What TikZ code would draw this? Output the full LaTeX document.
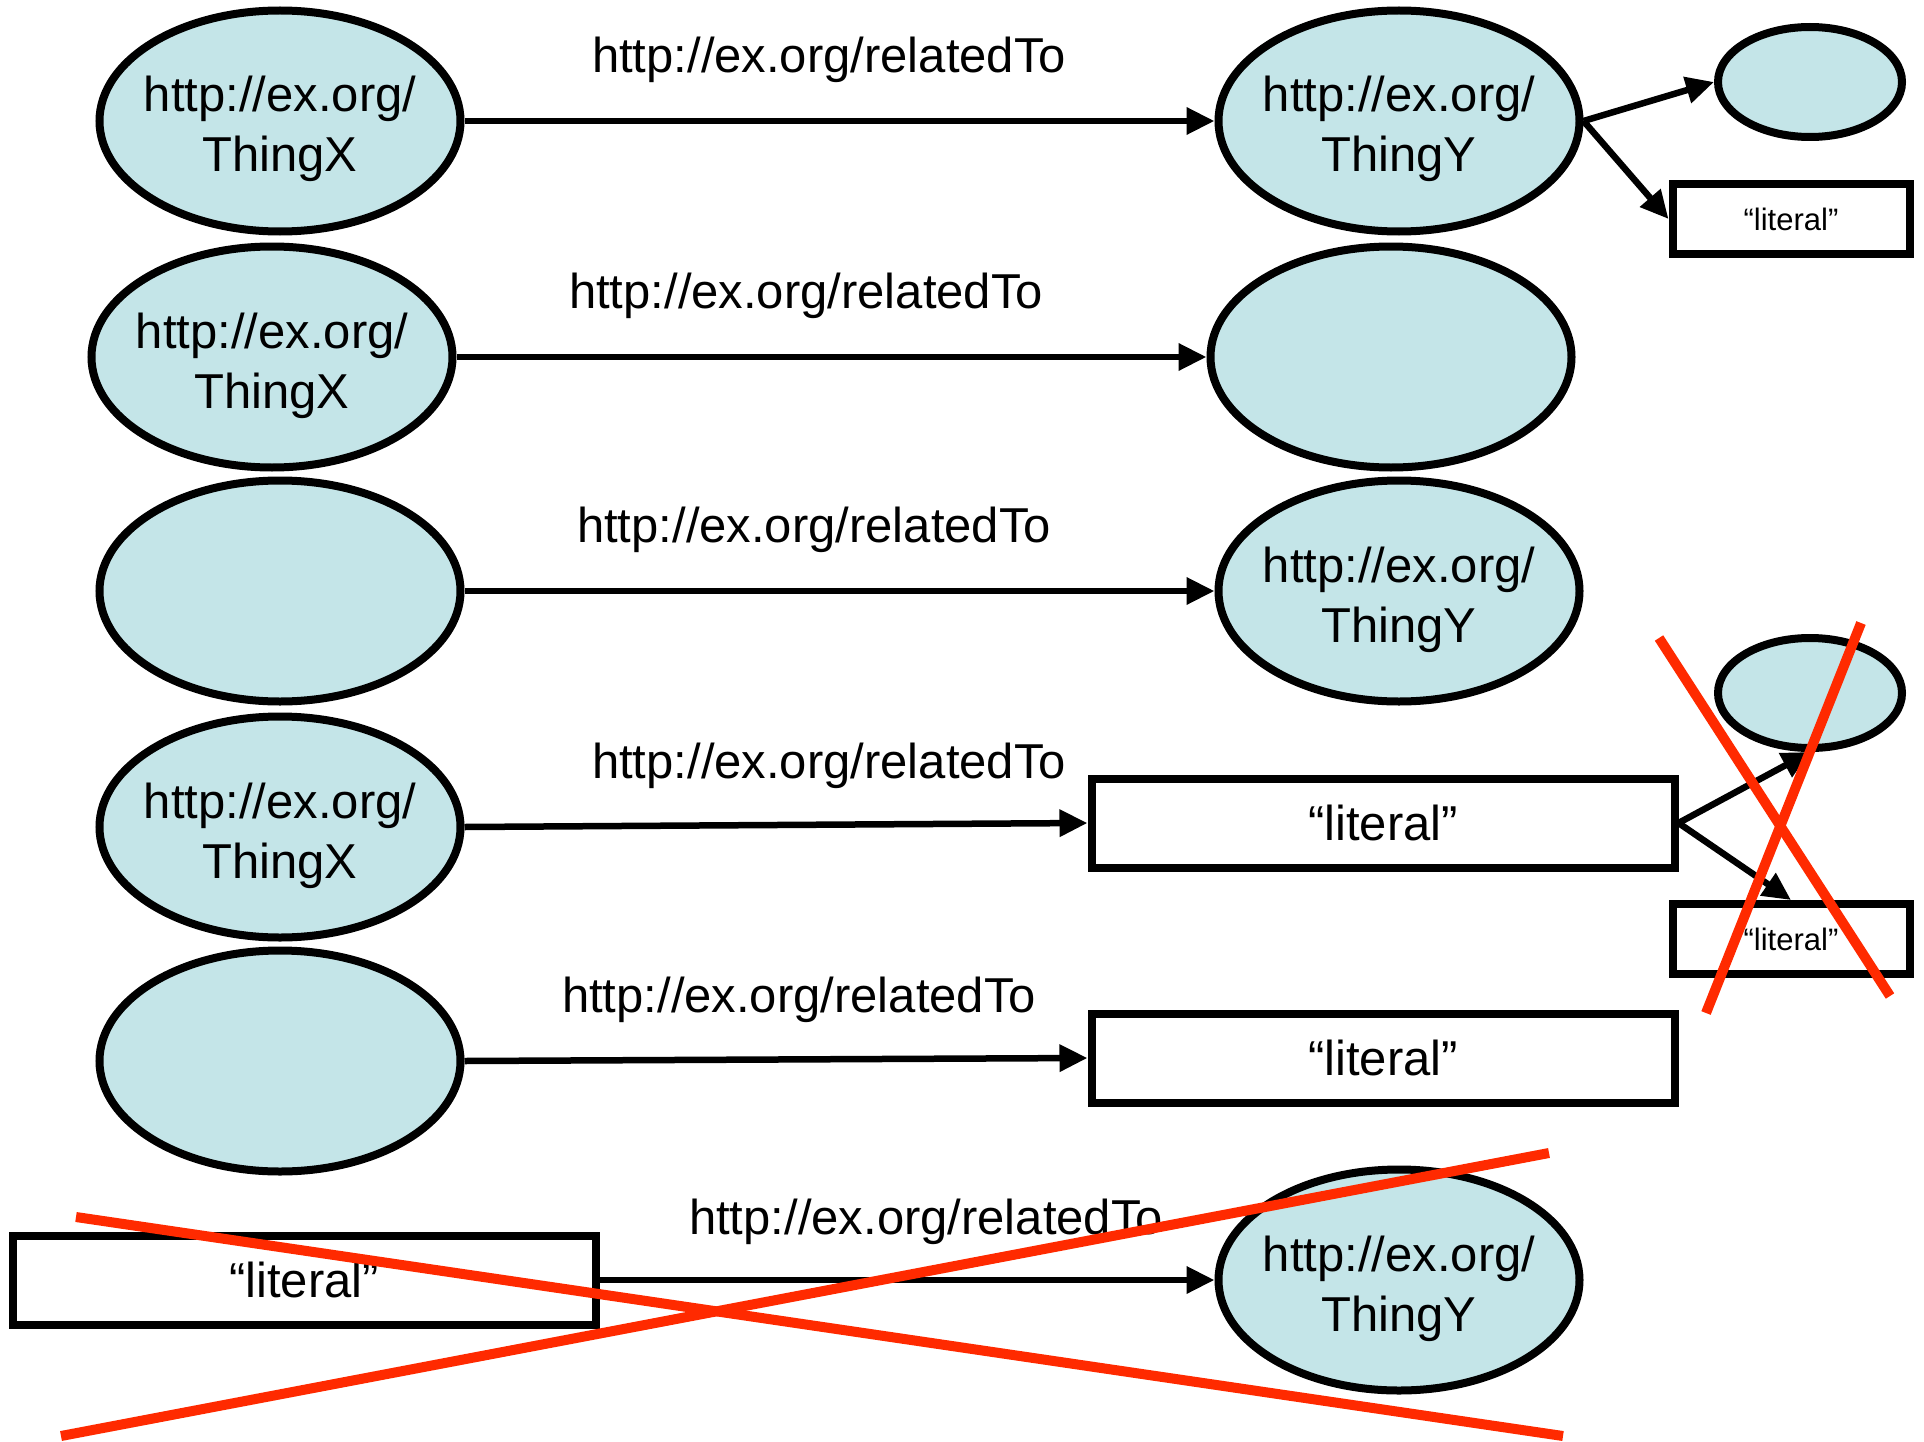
\documentclass[tikz,border=0pt]{standalone}
\usepackage{fontspec}
\setmainfont{Liberation Sans}
\usetikzlibrary{shapes.geometric,arrows.meta}
\definecolor{nodefill}{HTML}{C4E5E8}
\definecolor{crossred}{HTML}{FF2A00}
\newcommand\twolines[2]{\raisebox{-9pt}[\height][\depth]{\makebox[0pt]{\begin{tabular}{@{}c@{}}#1\\#2\end{tabular}}}}
\tikzset{
  res/.style={ellipse,draw=black,line width=8pt,fill=nodefill,minimum width=361pt,minimum height=221pt,inner sep=0pt,font=\fontsize{49}{60}\selectfont},
  smallres/.style={ellipse,draw=black,line width=8pt,fill=nodefill,minimum width=184pt,minimum height=110pt,inner sep=0pt},
  lit/.style={rectangle,draw=black,line width=8pt,fill=white,minimum width=583pt,minimum height=89pt,inner sep=0pt,font=\fontsize{49}{60}\selectfont},
  smalllit/.style={rectangle,draw=black,line width=8pt,fill=white,minimum width=237pt,minimum height=70pt,inner sep=0pt,font=\fontsize{31}{36}\selectfont},
  prop/.style={font=\fontsize{49}{60}\selectfont,inner sep=0pt},
  edge/.style={line width=6.5pt,-{Triangle[length=28pt,width=26pt]}},
  cross/.style={line width=10pt,draw=crossred},
}
\begin{document}
\begin{tikzpicture}[x=1pt,y=-1pt]
\useasboundingbox (0,0) rectangle (1924,1442);
% row 1
\node[res] (x1) at (280,121) {\twolines{http://ex.org/}{ThingX}};
\node[res] (y1) at (1399,121) {\twolines{http://ex.org/}{ThingY}};
\node[smallres] (s1) at (1810,82) {};
\node[smalllit] (l1) at (1791,219) {“literal”};
\node[prop] (p1) at (829,60) {http://ex.org/relatedTo};
\draw[edge] (x1.east) -- (y1.west);
\draw[edge] (y1.east) -- (s1.west);
\draw[edge] (y1.east) -- (l1.west);
% row 2
\node[res] (x2) at (272,357) {\twolines{http://ex.org/}{ThingX}};
\node[res] (y2) at (1391,357) {};
\node[prop] (p2) at (806,296) {http://ex.org/relatedTo};
\draw[edge] (x2.east) -- (y2.west);
% row 3
\node[res] (x3) at (280,591) {};
\node[res] (y3) at (1399,591) {\twolines{http://ex.org/}{ThingY}};
\node[prop] (p3) at (814,530) {http://ex.org/relatedTo};
\draw[edge] (x3.east) -- (y3.west);
% row 4
\node[res] (x4) at (280,827) {\twolines{http://ex.org/}{ThingX}};
\node[lit] (y4) at (1383,823) {“literal”};
\node[smallres] (s4) at (1810,693) {};
\node[smalllit] (l4) at (1791,939) {“literal”};
\node[prop] (p4) at (829,766) {http://ex.org/relatedTo};
\draw[edge] (x4.east) -- (y4.west);
\draw[edge] (y4.east) -- (s4.south);
\draw[edge] (y4.east) -- (l4.north);
\draw[cross] (1659,638) -- (1890,996);
\draw[cross] (1861,623) -- (1706,1013);
% row 5
\node[res] (x5) at (280,1061) {};
\node[lit] (y5) at (1383,1058) {“literal”};
\node[prop] (p5) at (799,1000) {http://ex.org/relatedTo};
\draw[edge] (x5.east) -- (y5.west);
% row 6
\node[lit] (x6) at (304,1280) {“literal”};
\node[res] (y6) at (1399,1280) {\twolines{http://ex.org/}{ThingY}};
\node[prop] (p6) at (926,1222) {http://ex.org/relatedTo};
\draw[edge] (x6.east) -- (y6.west);
\draw[cross] (76,1217) -- (1563,1436);
\draw[cross] (61,1436) -- (1549,1153);
\end{tikzpicture}
\end{document}
